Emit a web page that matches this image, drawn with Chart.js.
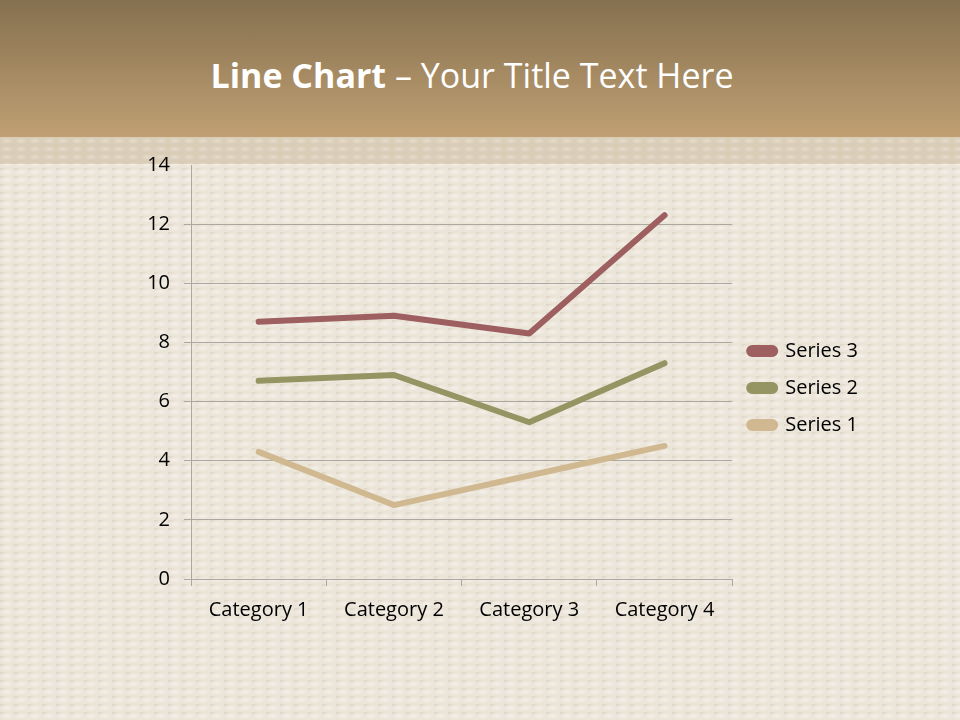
<!DOCTYPE html>
<html>
<head>
<meta charset="utf-8">
<script src="https://cdn.jsdelivr.net/npm/chart.js@4"></script>
<style>
  html, body { margin: 0; padding: 0; }
  body {
    width: 960px; height: 720px; overflow: hidden; position: relative;
    background-color: #ebe4d8;
    background-image: radial-gradient(ellipse 7px 3px at 50% 50%, rgba(255,255,255,0.5), rgba(255,255,255,0) 100%),
                      radial-gradient(ellipse 7px 3px at 0% 0%, rgba(196,184,164,0.4), rgba(196,184,164,0) 100%);
    background-size: 14px 8px;
  }
  #header {
    position: absolute; left: 0; top: 0; width: 960px; height: 137px;
    background: linear-gradient(#85704f, #c0a073);
  }
  #band {
    position: absolute; left: 0; top: 137px; width: 960px; height: 27px;
    background-color: #dacdb8;
    background-image: radial-gradient(ellipse 7px 3px at 50% 50%, rgba(255,255,255,0.3), rgba(255,255,255,0) 100%);
    background-size: 14px 8px;
  }
  #title {
    position: absolute; left: 0; top: 52px; width: 944px; text-align: center;
    color: #fff; font-family: "Open Sans", sans-serif; font-size: 34px;
  }
  #title b { font-weight: 700; }
  #wrap { position: absolute; left: 0; top: 137px; width: 960px; height: 583px; }
</style>
</head>
<body>
<div id="header"></div>
<div id="band"></div>
<div id="title"><b>Line Chart</b> – Your Title Text Here</div>
<div id="wrap"><canvas id="myChart"></canvas></div>
<script>
// stacked line chart, values per series (not cumulative)
var categories = ['Category 1', 'Category 2', 'Category 3', 'Category 4'];
var series1 = [4.3, 2.5, 3.5, 4.5];
var series2 = [2.4, 4.4, 1.8, 2.8];
var series3 = [2, 2, 3, 5];
var yTicks = [0, 2, 4, 6, 8, 10, 12, 14];

var gridColor = '#aca79f';
var font = { family: 'Open Sans, sans-serif', size: 20 };

function line(label, data, color) {
    return {
        label: label,
        data: data,
        borderColor: color,
        backgroundColor: color,
        borderWidth: 6,
        borderCapStyle: 'round',
        borderJoinStyle: 'round',
        pointRadius: 0,
        fill: false,
        tension: 0
    };
}

// legend sits a bit above the vertical middle in the original
var legendShift = {
    id: 'legendShift',
    afterLayout: function (chart) {
        chart.legend.top -= 14;
        chart.legend.bottom -= 14;
    }
};

var ctx = document.getElementById('myChart').getContext('2d');

var myChart = new Chart(ctx, {
    type: 'line',
    data: {
        labels: categories,
        datasets: [
            line('Series 1', series1, '#d0b990'),
            line('Series 2', series2, '#959563'),
            line('Series 3', series3, '#9d5f60')
        ]
    },
    plugins: [legendShift],
    options: {
        responsive: true,
        maintainAspectRatio: false,
        animation: false,
        layout: { padding: { left: 0, right: 92, top: 28, bottom: 81 } },
        plugins: {
            tooltip: { enabled: false },
            legend: {
                position: 'right',
                reverse: true,
                labels: {
                    color: '#000',
                    font: font,
                    boxWidth: 26,
                    boxHeight: 6,
                    padding: 17,
                    useBorderRadius: true,
                    borderRadius: 3
                }
            }
        },
        scales: {
            x: {
                offset: true,
                grid: {
                    offset: true,
                    drawOnChartArea: false,
                    drawTicks: true,
                    tickLength: 7,
                    color: gridColor
                },
                border: { color: gridColor },
                ticks: { color: '#000', font: font, padding: 12 },
                afterFit: function (scale) { scale.height = 60; }
            },
            y: {
                stacked: true,
                min: 0,
                max: 14,
                afterBuildTicks: function (scale) {
                    scale.ticks = yTicks.map(function (v) { return { value: v }; });
                },
                grid: {
                    tickLength: 7,
                    color: function (c) { return c.tick && c.tick.value === 14 ? 'rgba(0,0,0,0)' : gridColor; }
                },
                border: { color: gridColor },
                ticks: { color: '#000', font: font, padding: 14 },
                afterFit: function (scale) { scale.width = 191; }
            }
        }
    }
});
</script>
</body>
</html>
